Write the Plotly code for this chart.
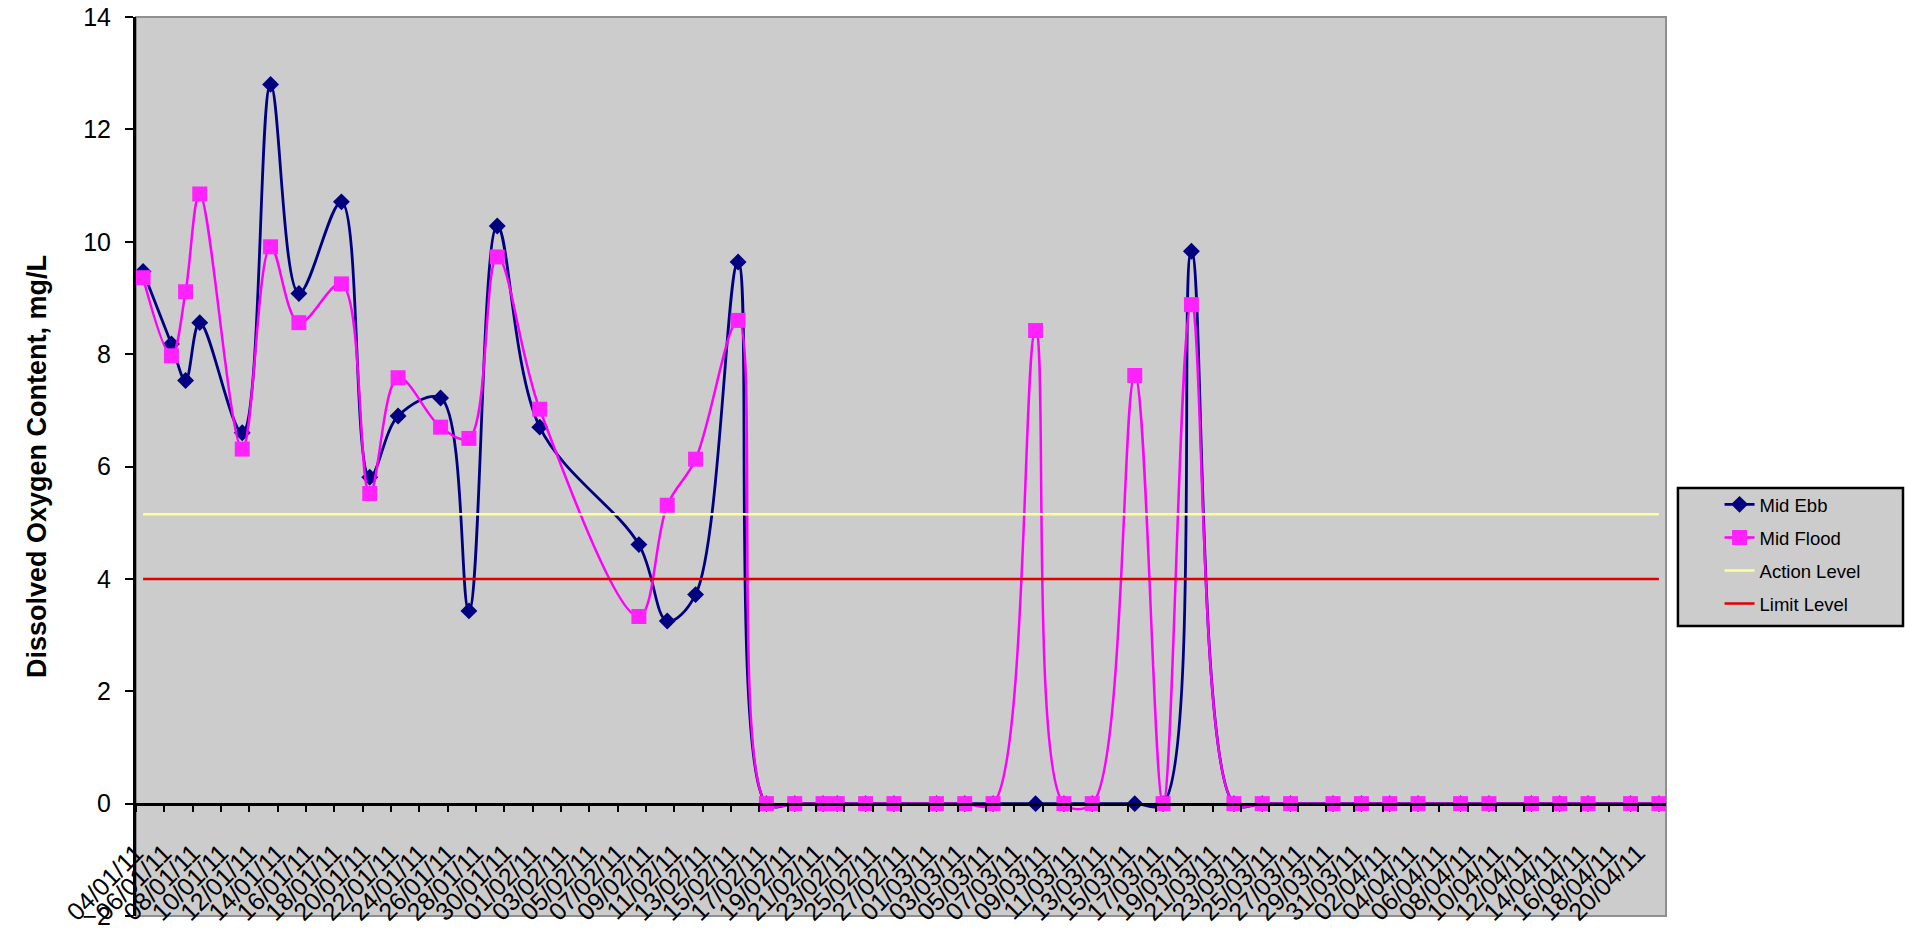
import plotly.graph_objects as go
import pandas as pd

# ---- data ----
dates = ['2011-01-04', '2011-01-06', '2011-01-07', '2011-01-08', '2011-01-11', '2011-01-13',
         '2011-01-15', '2011-01-18', '2011-01-20', '2011-01-22', '2011-01-25', '2011-01-27',
         '2011-01-29', '2011-02-01', '2011-02-08', '2011-02-10', '2011-02-12', '2011-02-15',
         '2011-02-17', '2011-02-19', '2011-02-21', '2011-02-22', '2011-02-24', '2011-02-26',
         '2011-03-01', '2011-03-03', '2011-03-05', '2011-03-08', '2011-03-10', '2011-03-12',
         '2011-03-15', '2011-03-17', '2011-03-19', '2011-03-22', '2011-03-24', '2011-03-26',
         '2011-03-29', '2011-03-31', '2011-04-02', '2011-04-04', '2011-04-07', '2011-04-09',
         '2011-04-12', '2011-04-14', '2011-04-16', '2011-04-19', '2011-04-21']

mid_ebb = [9.47, 8.18, 7.53, 8.56, 6.60, 12.80, 9.08, 10.71, 5.81, 6.90, 7.22, 3.43,
           10.28, 6.70, 4.61, 3.25, 3.72, 9.64,
           0, 0, 0, 0, 0, 0, 0, 0, 0, 0, 0, 0, 0, 0,
           9.83,
           0, 0, 0, 0, 0, 0, 0, 0, 0, 0, 0, 0, 0, 0]

mid_flood = [9.36, 7.97, 9.11, 10.85, 6.31, 9.91, 8.56, 9.25, 5.52, 7.58, 6.70, 6.50,
             9.73, 7.02, 3.33, 5.31, 6.13, 8.60,
             0, 0, 0, 0, 0, 0, 0, 0, 0, 8.42, 0, 0, 7.62, 0,
             8.88,
             0, 0, 0, 0, 0, 0, 0, 0, 0, 0, 0, 0, 0, 0]

action_level = 5.15
limit_level = 4.0

tick_labels = ['04/01/11', '06/01/11', '08/01/11', '10/01/11', '12/01/11', '14/01/11',
               '16/01/11', '18/01/11', '20/01/11', '22/01/11', '24/01/11', '26/01/11',
               '28/01/11', '30/01/11', '01/02/11', '03/02/11', '05/02/11', '07/02/11',
               '09/02/11', '11/02/11', '13/02/11', '15/02/11', '17/02/11', '19/02/11',
               '21/02/11', '23/02/11', '25/02/11', '27/02/11', '01/03/11', '03/03/11',
               '05/03/11', '07/03/11', '09/03/11', '11/03/11', '13/03/11', '15/03/11',
               '17/03/11', '19/03/11', '21/03/11', '23/03/11', '25/03/11', '27/03/11',
               '29/03/11', '31/03/11', '02/04/11', '04/04/11', '06/04/11', '08/04/11',
               '10/04/11', '12/04/11', '14/04/11', '16/04/11', '18/04/11', '20/04/11']

y_ticks = [-2, 0, 2, 4, 6, 8, 10, 12, 14]

# ---- derived axis helpers ----
half_day = pd.Timedelta(hours=12)
x_dates = pd.to_datetime(dates)
tick_vals = [pd.to_datetime(t, format='%d/%m/%y') - half_day for t in tick_labels]
x_range = [x_dates[0] - half_day, x_dates[-1] + half_day]

FONT = 'Arial, Liberation Sans, sans-serif'

fig = go.Figure()
fig.add_trace(go.Scatter(
    x=x_dates, y=mid_ebb, name='Mid Ebb', mode='lines+markers', legendgroup='g1',
    line=dict(color='#000080', width=2.8, shape='spline', smoothing=1),
    marker=dict(symbol='diamond', size=13, color='#000080')))
fig.add_trace(go.Scatter(
    x=x_dates, y=mid_flood, name='Mid Flood', mode='lines+markers', legendgroup='g2',
    line=dict(color='#FF00FF', width=2.5, shape='spline', smoothing=1),
    marker=dict(symbol='square', size=15, color='#FF22FF')))
fig.add_trace(go.Scatter(
    x=[x_dates[0], x_dates[-1]], y=[action_level, action_level], name='Action Level',
    mode='lines', legendgroup='g3', line=dict(color='#FFFF99', width=2.5)))
fig.add_trace(go.Scatter(
    x=[x_dates[0], x_dates[-1]], y=[limit_level, limit_level], name='Limit Level',
    mode='lines', legendgroup='g4', line=dict(color='#E00000', width=2.5)))

# plot-area border and legend box
fig.add_shape(type='rect', xref='paper', yref='paper', x0=0, x1=1, y0=0, y1=1,
              line=dict(color='#909090', width=2), layer='below')
fig.add_shape(type='rect', xref='paper', yref='paper', x0=1.0078, x1=1.1549, y0=0.3226, y1=0.476,
              line=dict(color='black', width=2.5), fillcolor='#CCCCCC', layer='above')

fig.update_layout(
    width=1905, height=929,
    margin=dict(l=136, r=239, t=17, b=13, autoexpand=False),
    paper_bgcolor='white', plot_bgcolor='#CCCCCC',
    font=dict(family=FONT, color='black'),
    showlegend=True,
    legend=dict(x=1.035, y=0.4785, xanchor='left', yanchor='top',
                bgcolor='rgba(0,0,0,0)', borderwidth=0,
                font=dict(family=FONT, size=18.5, color='black'),
                tracegroupgap=6),
    xaxis=dict(type='date', range=x_range, tickvals=tick_vals, ticktext=tick_labels,
               tickangle=-45, ticks='outside', ticklen=7, tickwidth=2, tickcolor='black',
               showline=True, linecolor='black', linewidth=2.5, ticklabelstandoff=16,
               anchor='free', position=0.125, showgrid=False, zeroline=False,
               automargin=False, ticklabeloverflow='allow',
               tickfont=dict(family=FONT, size=25, color='black')),
    yaxis=dict(range=[-2, 14], tickvals=y_ticks, ticks='outside', ticklen=8, tickwidth=2,
               tickcolor='black', showline=True, linecolor='black', linewidth=3,
               showgrid=False, zeroline=False, ticklabelstandoff=9, automargin=False,
               ticklabeloverflow='allow',
               tickfont=dict(family=FONT, size=25, color='black'),
               title=dict(text='<b>Dissolved Oxygen Content, mg/L</b>',
                          font=dict(family=FONT, size=27, color='black'),
                          standoff=29)),
)

# remove the default 8px page margin so the 1905x929 figure fills the window exactly
fig.write_html('out.html', config={'displayModeBar': False},
               post_script="document.body.style.margin='0px';")
